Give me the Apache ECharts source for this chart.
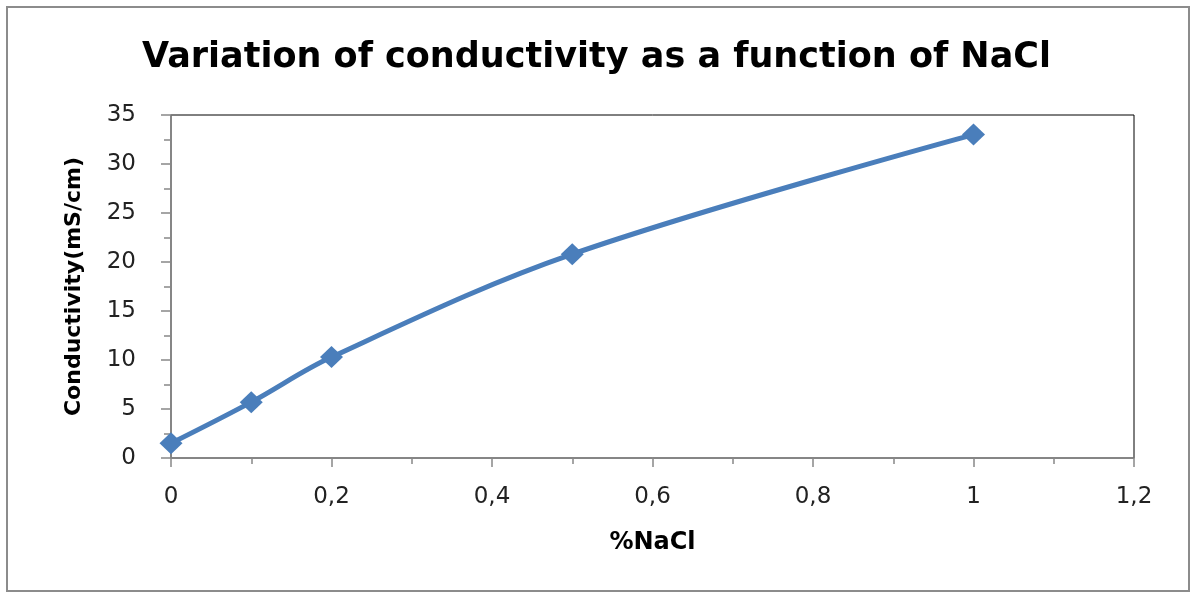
<!DOCTYPE html>
<html>
<head>
<meta charset="utf-8">
<script src="https://cdn.jsdelivr.net/npm/echarts@6/dist/echarts.min.js"></script>
<style>
html,body{margin:0;padding:0;background:#fff;}
#chart{width:1193px;height:593px;}
</style>
</head>
<body>
<div id="chart"></div>
<script>
const nacl = [0, 0.1, 0.2, 0.5, 1];
const conductivity = [1.5, 5.7, 10.3, 20.8, 33.0];
const titleText = 'Variation of conductivity as a function of NaCl';
const xName = '%NaCl';
const yName = 'Conductivity(mS/cm)';

const chart = echarts.init(document.getElementById('chart'));
const fmt = v => String(Math.round(v * 10) / 10).replace('.', ',');
const FONT = 'DejaVu Sans';
chart.setOption({
  animation: false,
  backgroundColor: '#fff',
  title: {
    text: titleText,
    left: 'center',
    top: 35,
    textStyle: { fontFamily: FONT, fontWeight: 'bold', fontSize: 35, color: '#000' }
  },
  graphic: [{
    type: 'rect',
    shape: { x: 7, y: 7, width: 1182, height: 584 },
    style: { fill: 'none', stroke: '#8c8c8c', lineWidth: 2 },
    silent: true, z: -1
  }],
  grid: {
    left: 171, top: 115, right: 59, bottom: 135,
    show: true, borderColor: '#000', borderWidth: 1, backgroundColor: '#fff'
  },
  xAxis: {
    type: 'value', min: 0, max: 1.2, interval: 0.2,
    name: xName, nameLocation: 'middle', nameGap: 73,
    nameTextStyle: { fontFamily: FONT, fontWeight: 'bold', fontSize: 24, color: '#000' },
    axisLine: { show: true, lineStyle: { color: '#888', width: 1.5 } },
    axisTick: { show: true, length: 9, lineStyle: { color: '#888', width: 1.5 } },
    minorTick: { show: true, splitNumber: 2, length: 6, lineStyle: { color: '#888', width: 1.5 } },
    splitLine: { show: false },
    axisLabel: { formatter: fmt, fontFamily: FONT, fontSize: 23, color: '#222', margin: 28 }
  },
  yAxis: {
    type: 'value', min: 0, max: 35, interval: 5,
    name: yName, nameLocation: 'middle', nameGap: 86, nameRotate: 90,
    nameTextStyle: { fontFamily: FONT, fontWeight: 'bold', fontSize: 22, color: '#000' },
    axisLine: { show: true, lineStyle: { color: '#888', width: 1.5 } },
    axisTick: { show: true, length: 10, lineStyle: { color: '#888', width: 1.5 } },
    minorTick: { show: true, splitNumber: 2, length: 7, lineStyle: { color: '#888', width: 1.5 } },
    splitLine: { show: false },
    axisLabel: { fontFamily: FONT, fontSize: 23, color: '#222', margin: 35 }
  },
  series: [{
    type: 'line',
    data: nacl.map((x, i) => [x, conductivity[i]]),
    smooth: 0.35,
    symbol: 'diamond',
    symbolSize: [23, 22],
    lineStyle: { color: '#4a7ebb', width: 5 },
    itemStyle: { color: '#4a7ebb' }
  }]
});
</script>
</body>
</html>
